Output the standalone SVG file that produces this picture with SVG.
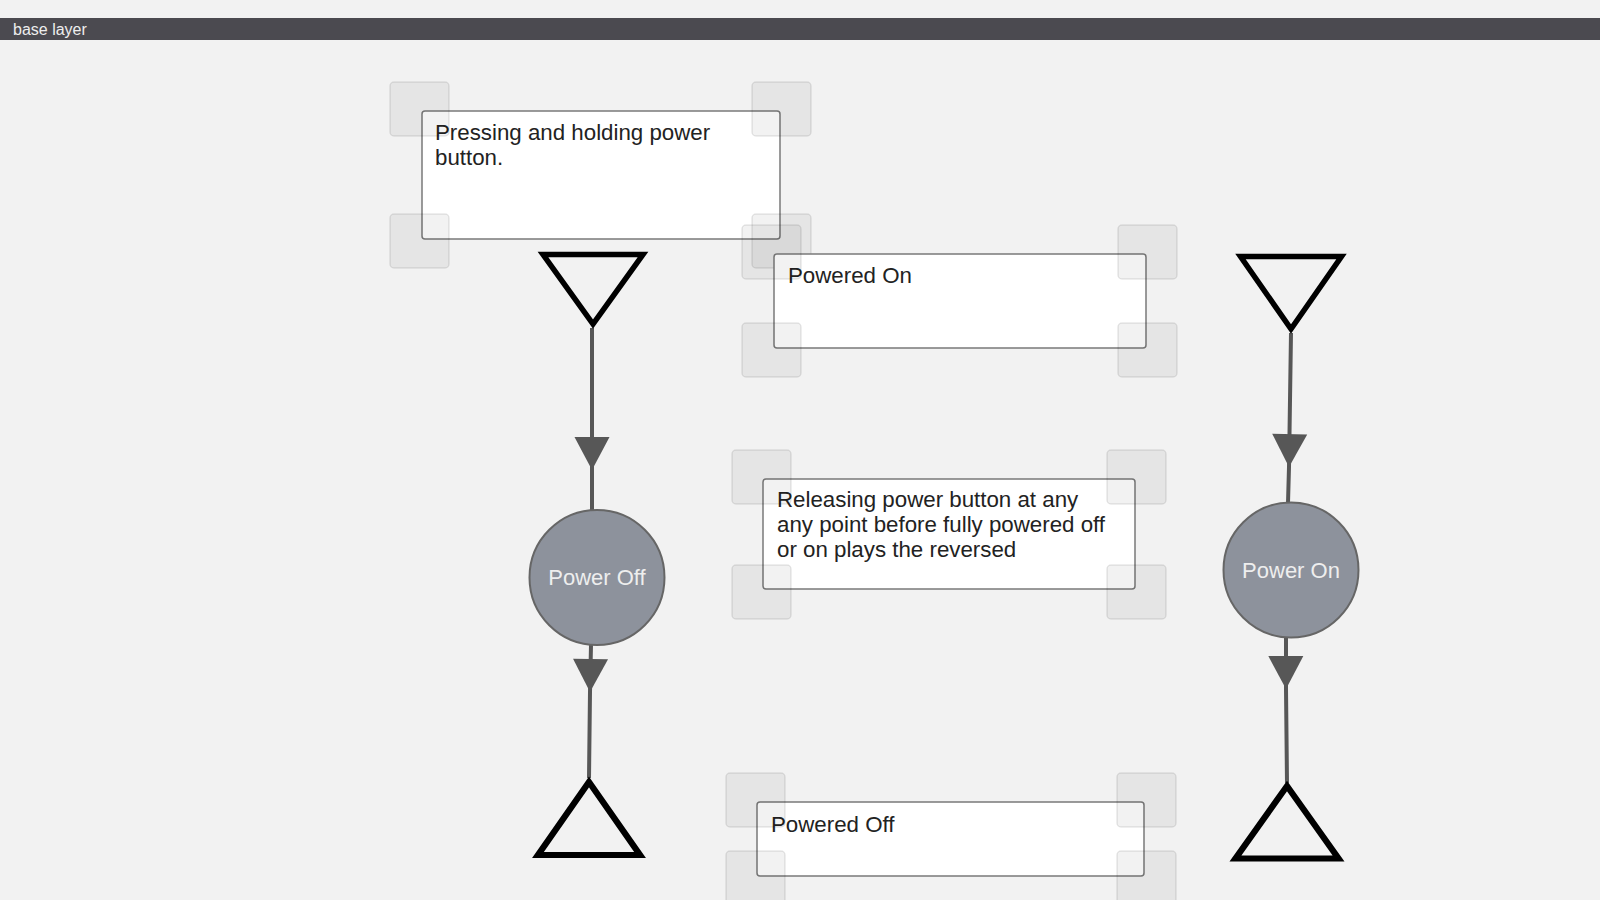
<svg xmlns="http://www.w3.org/2000/svg" width="1600" height="900" viewBox="0 0 1600 900">
<style>
.box{fill:#fff;stroke:#7a7a7a;stroke-width:1.5}
.h{fill:#000;fill-opacity:0.05;stroke:#000;stroke-opacity:0.09;stroke-width:1.5}
.t{font-family:"Liberation Sans",Arial,sans-serif;font-size:22.3px;fill:#222}
.ct{font-family:"Liberation Sans",Arial,sans-serif;font-size:22px;fill:#eeeeee;text-anchor:middle}
.circ{fill:#8d929c;stroke:#666;stroke-width:2}
.tri{fill:none;stroke:#000;stroke-width:5.5;stroke-linejoin:miter}
.tri2{fill:none;stroke:#000;stroke-width:6.2;stroke-linejoin:miter}
.conn{fill:none;stroke:#575757;stroke-width:4;marker-mid:url(#ah)}
</style>
<defs>
<marker id="ah" markerUnits="userSpaceOnUse" markerWidth="34" markerHeight="36" refX="33" refY="17.5" orient="auto" overflow="visible">
<path d="M0,0 L33,17.5 L0,35 Z" fill="#575757"/>
</marker>
</defs>
<rect x="0" y="0" width="1600" height="900" fill="#f2f2f2"/>
<g id="header">
<rect x="0" y="18" width="1600" height="22" fill="#4b4a50"/>
<text x="13" y="35" font-family="'Liberation Sans',Arial,sans-serif" font-size="16" fill="#eeeeee">base layer</text>
</g>
<g id="connectors">
<path class="conn" d="M592,328 L592,470 L592,510"/>
<path class="conn" d="M591,645 L590,692 L589,778"/>
<path class="conn" d="M1291,333 L1289,467 L1288,503"/>
<path class="conn" d="M1286,638 L1286,689 L1287,783"/>
</g>
<g id="start-left">
<polygon class="tri" points="543,254.5 643,254.5 593,324"/>
</g>
<g id="start-right">
<polygon class="tri" points="1240.5,256.5 1341.5,256.5 1291,329"/>
</g>
<g id="end-left">
<polygon class="tri2" points="589,782 640,855 538,855"/>
</g>
<g id="end-right">
<polygon class="tri2" points="1287,786 1338.5,858.5 1235.5,858.5"/>
</g>
<g id="power-off">
<circle class="circ" cx="597" cy="577.5" r="67.5"/>
<text class="ct" x="597" y="585">Power Off</text>
</g>
<g id="power-on">
<circle class="circ" cx="1291" cy="570" r="67.5"/>
<text class="ct" x="1291" y="578">Power On</text>
</g>
<g id="note-pressing">
<rect class="box" x="422" y="111" width="358" height="128" rx="3"/>
<text class="t" x="435" y="140">Pressing and holding power</text>
<text class="t" x="435" y="164.5">button.</text>
<rect class="h" x="390" y="82" width="59" height="54" rx="4"/>
<rect class="h" x="752" y="82" width="59" height="54" rx="4"/>
<rect class="h" x="390" y="214" width="59" height="54" rx="4"/>
<rect class="h" x="752" y="214" width="59" height="54" rx="4"/>
</g>
<g id="note-powered-on">
<rect class="box" x="774" y="254" width="372" height="94" rx="3"/>
<text class="t" x="788" y="283">Powered On</text>
<rect class="h" x="742" y="225" width="59" height="54" rx="4"/>
<rect class="h" x="1118" y="225" width="59" height="54" rx="4"/>
<rect class="h" x="742" y="323" width="59" height="54" rx="4"/>
<rect class="h" x="1118" y="323" width="59" height="54" rx="4"/>
</g>
<g id="note-releasing">
<rect class="box" x="763" y="479" width="372" height="110" rx="3"/>
<text class="t" x="777" y="507">Releasing power button at any</text>
<text class="t" x="777" y="532">any point before fully powered off</text>
<text class="t" x="777" y="557">or on plays the reversed</text>
<rect class="h" x="732" y="450" width="59" height="54" rx="4"/>
<rect class="h" x="1107" y="450" width="59" height="54" rx="4"/>
<rect class="h" x="732" y="565" width="59" height="54" rx="4"/>
<rect class="h" x="1107" y="565" width="59" height="54" rx="4"/>
</g>
<g id="note-powered-off">
<rect class="box" x="757" y="802" width="387" height="74" rx="3"/>
<text class="t" x="771" y="832">Powered Off</text>
<rect class="h" x="726" y="773" width="59" height="54" rx="4"/>
<rect class="h" x="1117" y="773" width="59" height="54" rx="4"/>
<rect class="h" x="726" y="851" width="59" height="54" rx="4"/>
<rect class="h" x="1117" y="851" width="59" height="54" rx="4"/>
</g>
</svg>
